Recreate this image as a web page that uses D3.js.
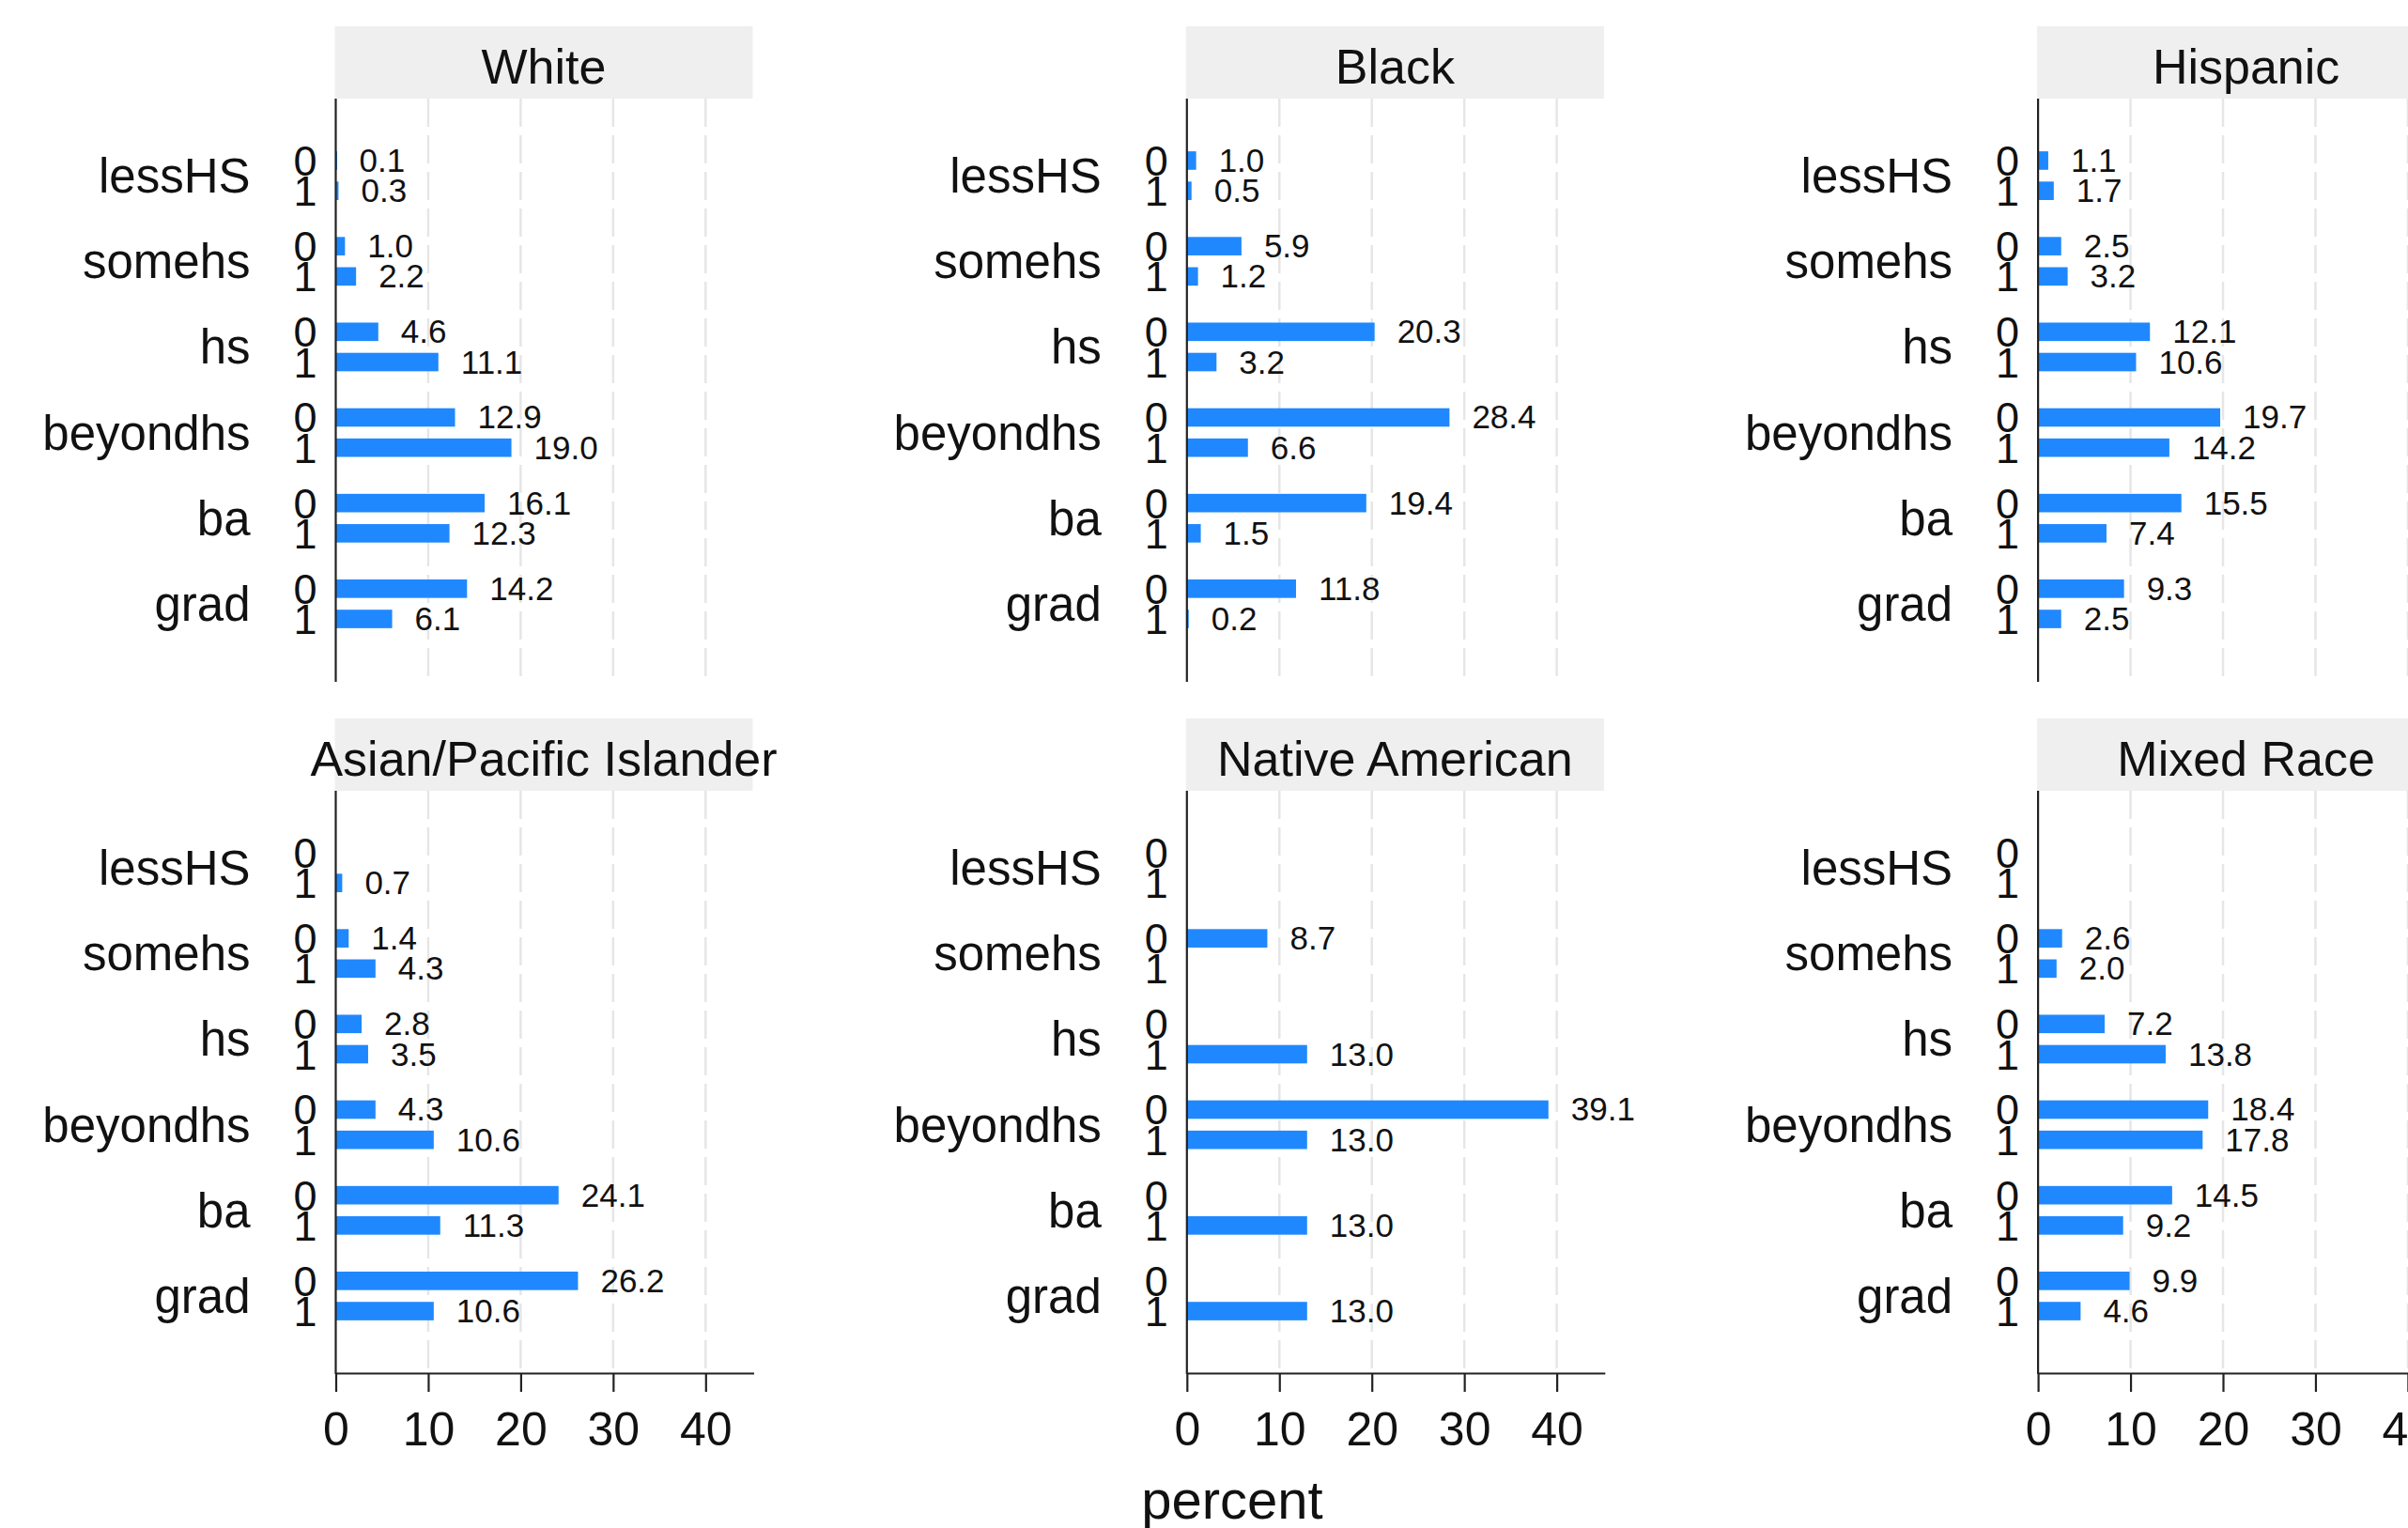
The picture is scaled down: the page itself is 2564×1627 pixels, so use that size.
<!DOCTYPE html>
<html>
<head>
	<title>percent by education, sex and race</title>
	<script src="https://d3js.org/d3.v7.min.js"></script>
	<style type="text/css">
		body{ margin: 0; background: #fff; }
		text{ font-family: "Liberation Sans", Arial, sans-serif; fill: #111; }
	</style>
</head>
<body>
<script type="text/javascript">
	// education levels (outer) and sex groups (inner)
	var categories = ["lessHS","somehs","hs","beyondhs","ba","grad"]
	var groups = ["0","1"]
	var races = ["White","Black","Hispanic","Asian/Pacific Islander","Native American","Mixed Race"]
	var xTicks = [0,10,20,30,40]

	// percent values, one array per race and group (null = no bar)
	var white_0 = [0.1, 1.0, 4.6, 12.9, 16.1, 14.2]
	var white_1 = [0.3, 2.2, 11.1, 19.0, 12.3, 6.1]
	var black_0 = [1.0, 5.9, 20.3, 28.4, 19.4, 11.8]
	var black_1 = [0.5, 1.2, 3.2, 6.6, 1.5, 0.2]
	var hispanic_0 = [1.1, 2.5, 12.1, 19.7, 15.5, 9.3]
	var hispanic_1 = [1.7, 3.2, 10.6, 14.2, 7.4, 2.5]
	var asian_0 = [null, 1.4, 2.8, 4.3, 24.1, 26.2]
	var asian_1 = [0.7, 4.3, 3.5, 10.6, 11.3, 10.6]
	var native_0 = [null, 8.7, null, 39.1, null, null]
	var native_1 = [null, null, 13.0, 13.0, 13.0, 13.0]
	var mixed_0 = [null, 2.6, 7.2, 18.4, 14.5, 9.9]
	var mixed_1 = [null, 2.0, 13.8, 17.8, 9.2, 4.6]

	var series = [
		[white_0, white_1],
		[black_0, black_1],
		[hispanic_0, hispanic_1],
		[asian_0, asian_1],
		[native_0, native_1],
		[mixed_0, mixed_1]
	]

	var W = 2564, H = 1627
	var barColor = "#1f88ff"
	var colX0 = 357.5, colStep = 906.3, panelW = 445
	var rowTop = [28, 765], stripH = 77, plotH = 620

	var svg = d3.select("body").append("svg").attr("width",W).attr("height",H)
	svg.append("rect").attr("width",W).attr("height",H).attr("fill","#fff")

	var x = d3.scaleLinear().domain([0,45.2]).range([0,panelW])
	var y = d3.scaleBand().domain(categories).range([0,plotH]).paddingInner(0).paddingOuter(0.4)
	var sub = d3.scaleBand().domain(groups).range([-32.2,32.2]).paddingInner(0.39).paddingOuter(0.195)
	var fmt = d3.format(".1f")

	races.forEach(function(race,i){
		var col = i % 3, row = Math.floor(i/3)
		var px = colX0 + col*colStep
		var stripY = rowTop[row]
		var py = stripY + stripH

		// strip
		svg.append("rect").attr("x",px-1).attr("y",stripY).attr("width",panelW).attr("height",stripH).attr("fill","#efefef")
		svg.append("text").attr("x",px-1+panelW/2).attr("y",stripY+61).attr("text-anchor","middle")
			.style("font-size","52px").text(race)

		var g = svg.append("g").attr("transform","translate("+px+","+py+")")

		// dashed grid
		g.selectAll(".grid").data(xTicks.slice(1)).enter().append("line")
			.attr("x1",d=>x(d)).attr("x2",d=>x(d)).attr("y1",0).attr("y2",plotH-4)
			.attr("stroke","#e6e6e6").attr("stroke-width",2.5).attr("stroke-dasharray","30,9")

		// rows of bars
		categories.forEach(function(cat,c){
			var cy = y(cat) + y.bandwidth()/2
			g.append("text").attr("x",-91).attr("y",cy+18).attr("text-anchor","end")
				.style("font-size","51px").text(cat)

			groups.forEach(function(grp,k){
				var by = cy + sub(grp)
				var bc = by + sub.bandwidth()/2
				g.append("text").attr("x",-20).attr("y",bc+16).attr("text-anchor","end")
					.style("font-size","45px").text(grp)
				var v = series[i][k][c]
				if(v == null) return
				g.append("rect").attr("x",x(0)).attr("y",by).attr("width",Math.max(x(v),1.5)).attr("height",sub.bandwidth())
					.attr("fill",barColor)
				g.append("text").attr("x",x(v)+24).attr("y",bc+12)
					.style("font-size","35px").text(fmt(v))
			})
		})

		// y axis line
		g.append("line").attr("x1",0).attr("x2",0).attr("y1",0).attr("y2",plotH+1)
			.attr("stroke","#222").attr("stroke-width",2.2)

		// x axis on bottom row only
		if(row == 1){
			var ax = g.append("g").attr("transform","translate(0,"+plotH+")")
				.call(d3.axisBottom(x).tickValues(xTicks).tickSize(20).tickSizeOuter(0).tickPadding(21).tickFormat(d3.format("d")))
			ax.select(".domain").attr("stroke","#222").attr("stroke-width",2.2)
			ax.selectAll(".tick line").attr("stroke","#222").attr("stroke-width",2.2)
			ax.selectAll(".tick text").attr("fill","#111").style("font-size","50px")
				.style("font-family","'Liberation Sans', Arial, sans-serif")
		}
	})

	svg.append("text").attr("x",1312).attr("y",1617).attr("text-anchor","middle")
		.style("font-size","58px").text("percent")
</script>
</body>
</html>
